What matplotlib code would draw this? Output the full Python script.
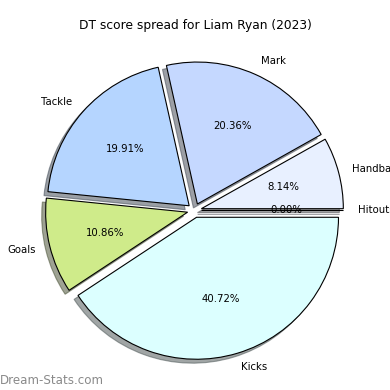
import matplotlib.pyplot as plt

# DT score components, counter-clockwise from 0 degrees
labels = ['Hitouts', 'Handball', 'Mark', 'Tackle', 'Goals', 'Kicks']
shares = [0.00, 8.14, 20.36, 19.91, 10.86, 40.72]
colors = ['#e8f0ff', '#e8f0ff', '#c5d8ff', '#b5d5ff', '#cfeb8a', '#dcffff']
explode = [0.05] * len(labels)

fig = plt.figure(figsize=(3.9, 3.9), dpi=100)
ax = fig.add_axes([0.0437, 0.0053, 0.91, 0.91])

wedges, texts, autotexts = ax.pie(
    shares,
    labels=labels,
    colors=colors,
    explode=explode,
    autopct='%1.2f%%',
    startangle=0,
    shadow=True,
    wedgeprops={'edgecolor': 'black', 'linewidth': 0.8},
    textprops={'fontsize': 7.3},
)
ax.set_xlim(-1.25, 1.25)
ax.set_ylim(-1.25, 1.25)

fig.text(0.5, 1 - 25 / 390, 'DT score spread for Liam Ryan (2023)',
         ha='center', va='center', fontsize=8.8)
fig.text(0.0, 1 - 380 / 390, 'Dream-Stats.com', ha='left', va='center',
         fontsize=8.6, color='#8a8a8a')

fig.savefig('out.png', dpi=100)
